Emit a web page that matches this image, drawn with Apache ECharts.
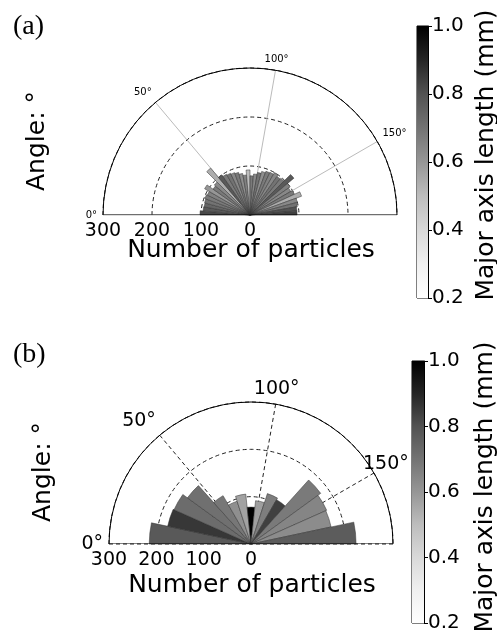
<!DOCTYPE html>
<html>
<head>
<meta charset="utf-8">
<script src="https://cdn.jsdelivr.net/npm/echarts@6/dist/echarts.min.js"></script>
<style>
  html, body { margin: 0; padding: 0; background: #fff; }
  #main { width: 497px; height: 639px; }
</style>
</head>
<body>
<div id="main"></div>
<script>
// panel (a): 5 degree bins
var anglesA = [2.5, 7.5, 12.5, 17.5, 22.5, 27.5, 32.5, 37.5, 42.5, 47.5, 52.5, 57.5,
  62.5, 67.5, 72.5, 77.5, 82.5, 87.5, 92.5, 97.5, 102.5, 107.5, 112.5, 117.5,
  122.5, 127.5, 132.5, 137.5, 142.5, 147.5, 152.5, 157.5, 162.5, 167.5, 172.5, 177.5]
var countsA = [102, 96, 95, 96, 98, 96, 107, 92, 95, 125, 100, 96,
  94, 92, 90, 86, 82, 92, 80, 84, 88, 92, 95, 96,
  100, 96, 98, 117, 100, 96, 100, 112, 100, 98, 96, 96]
var lengthsA = [0.82, 0.78, 0.74, 0.7, 0.68, 0.66, 0.6, 0.68, 0.64, 0.54, 0.78, 0.68,
  0.7, 0.64, 0.68, 0.62, 0.66, 0.5, 0.68, 0.64, 0.7, 0.62, 0.68, 0.66,
  0.64, 0.7, 0.68, 0.78, 0.66, 0.64, 0.68, 0.54, 0.64, 0.7, 0.8, 0.84]

// panel (b): 12 degree bins
var anglesB = [6, 18, 30, 42, 54, 66, 78, 90, 102, 114, 126, 138, 150, 162, 174]
var countsB = [215, 180, 178, 166, 118, 95, 106, 78, 92, 112, 108, 182, 175, 173, 222]
var lengthsB = [0.78, 0.86, 0.72, 0.71, 0.69, 0.62, 0.57, 1.0, 0.58, 0.67, 0.84, 0.68, 0.65, 0.63, 0.77]

var radiusTicks = [0, 300, 100]   // min, max, interval
var angleTicks = [0, 180, 50]
var colorTicks = [0.2, 1.0, 0.2]

var greys = ['#ffffff', '#f0f0f0', '#d9d9d9', '#bdbdbd', '#969696', '#737373', '#525252', '#252525', '#000000']
var font = 'DejaVu Sans'

function rose (counts, angles, lengths) {
  var out = []
  for (var i = 0; i < counts.length; i++) {
    out.push([counts[i], angles[i], lengths[i]])
  }
  return out
}

// skip: tick value whose label is drawn separately
function angleAxis (idx, size, dashed, skip) {
  return {
    polarIndex: idx,
    type: 'value',
    min: angleTicks[0],
    max: angleTicks[1],
    interval: angleTicks[2],
    startAngle: 180,
    endAngle: 0,
    clockwise: true,
    axisLine: { show: true, lineStyle: { color: '#000', width: 1 } },
    axisTick: { show: false },
    axisLabel: {
      fontSize: size,
      fontFamily: font,
      color: '#000',
      margin: 6,
      formatter: function (v) { return (v === 180 || v === skip) ? '' : v + '°' }
    },
    splitLine: {
      show: true,
      lineStyle: dashed ? { color: '#222', width: 1, type: [4, 3] } : { color: '#bbb', width: 1 }
    }
  }
}

function radiusAxis (idx) {
  return {
    polarIndex: idx,
    type: 'value',
    min: radiusTicks[0],
    max: radiusTicks[1],
    interval: radiusTicks[2],
    axisLine: { show: false },
    axisTick: { show: false },
    axisLabel: { fontSize: 19, fontFamily: font, color: '#000', margin: 7 },
    splitLine: { show: true, lineStyle: { color: '#222', width: 1, type: [4, 3] } }
  }
}

function barSeries (idx, data) {
  return {
    type: 'bar',
    coordinateSystem: 'polar',
    polarIndex: idx,
    barWidth: '100%',
    data: data,
    itemStyle: { borderColor: '#333', borderWidth: 0.5 },
    silent: true
  }
}

function baseLine (idx) {
  return {
    type: 'line',
    coordinateSystem: 'polar',
    polarIndex: idx,
    data: [[radiusTicks[1], angleTicks[0]], [0, angleTicks[0]], [radiusTicks[1], angleTicks[1]]],
    symbol: 'none',
    clip: false,
    lineStyle: { color: '#000', width: 1 },
    silent: true,
    z: 5
  }
}

function colorbar (idx) {
  return {
    type: 'bar',
    xAxisIndex: idx,
    yAxisIndex: idx,
    barWidth: '100%',
    data: [colorTicks[1]],
    silent: true,
    itemStyle: {
      color: new echarts.graphic.LinearGradient(0, 0, 0, 1, greys.slice().reverse().map(function (c, i) {
        return { offset: i / (greys.length - 1), color: c }
      }))
    }
  }
}

function colorAxis (idx) {
  return {
    gridIndex: idx,
    type: 'value',
    position: 'right',
    min: colorTicks[0],
    max: colorTicks[1],
    interval: colorTicks[2],
    axisLine: { show: true, lineStyle: { color: '#000' } },
    axisTick: { show: true, length: 4, lineStyle: { color: '#000' } },
    axisLabel: {
      fontSize: 20, fontFamily: font, color: '#000', margin: 4,
      formatter: function (v) { return v.toFixed(1) }
    },
    splitLine: { show: false }
  }
}

var chart = echarts.init(document.getElementById('main'))
var option = {
  animation: false,
  backgroundColor: '#fff',
  title: [
    { text: '(a)', left: 8, top: 8, textStyle: { fontFamily: 'Liberation Serif', fontSize: 28, fontWeight: 'normal', color: '#000' } },
    { text: '(b)', left: 8, top: 336, textStyle: { fontFamily: 'Liberation Serif', fontSize: 28, fontWeight: 'normal', color: '#000' } }
  ],
  polar: [
    { center: [250, 215], radius: 147 },
    { center: [251, 544], radius: 142 }
  ],
  angleAxis: [angleAxis(0, 10, false, null), angleAxis(1, 19, true, 150)],
  radiusAxis: [radiusAxis(0), radiusAxis(1)],
  grid: [
    { left: 417, top: 26, width: 11, height: 272, show: true, borderColor: '#000', borderWidth: 1 },
    { left: 412, top: 361, width: 12, height: 262, show: true, borderColor: '#000', borderWidth: 1 }
  ],
  xAxis: [
    { gridIndex: 0, type: 'category', data: [''], show: false },
    { gridIndex: 1, type: 'category', data: [''], show: false }
  ],
  yAxis: [colorAxis(0), colorAxis(1)],
  visualMap: [{
    type: 'continuous',
    show: false,
    min: colorTicks[0],
    max: colorTicks[1],
    dimension: 2,
    seriesIndex: [0, 1],
    inRange: { color: greys }
  }],
  series: [
    barSeries(0, rose(countsA, anglesA, lengthsA)),
    barSeries(1, rose(countsB, anglesB, lengthsB)),
    baseLine(0),
    baseLine(1),
    colorbar(0),
    colorbar(1)
  ],
  graphic: [
    { type: 'text', x: 37, y: 141, rotation: Math.PI / 2,
      style: { text: 'Angle: °', fontSize: 25, fontFamily: font, fill: '#000', align: 'center', verticalAlign: 'middle' } },
    { type: 'text', x: 43, y: 472, rotation: Math.PI / 2,
      style: { text: 'Angle: °', fontSize: 25, fontFamily: font, fill: '#000', align: 'center', verticalAlign: 'middle' } },
    { type: 'text', x: 251, y: 250,
      style: { text: 'Number of particles', fontSize: 25, fontFamily: font, fill: '#000', align: 'center', verticalAlign: 'middle' } },
    { type: 'text', x: 252, y: 585,
      style: { text: 'Number of particles', fontSize: 25, fontFamily: font, fill: '#000', align: 'center', verticalAlign: 'middle' } },
    { type: 'text', x: 486, y: 155, rotation: Math.PI / 2,
      style: { text: 'Major axis length (mm)', fontSize: 25, fontFamily: font, fill: '#000', align: 'center', verticalAlign: 'middle' } },
    { type: 'text', x: 485, y: 487, rotation: Math.PI / 2,
      style: { text: 'Major axis length (mm)', fontSize: 25, fontFamily: font, fill: '#000', align: 'center', verticalAlign: 'middle' } },
    // 150° label of (b) sits overlapping the rim, left of the colorbar
    { type: 'text', x: 363, y: 474, z: 10,
      style: { text: '150°', fontSize: 19, fontFamily: font, fill: '#000', align: 'left', verticalAlign: 'bottom' } }
  ]
}
chart.setOption(option)
</script>
</body>
</html>
